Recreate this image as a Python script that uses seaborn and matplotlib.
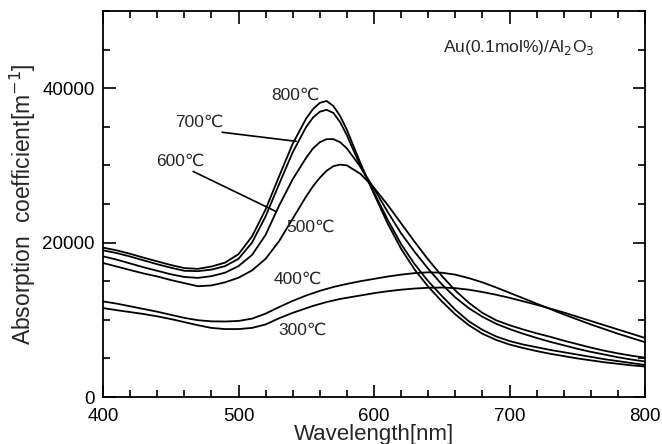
import numpy as np
import pandas as pd
import matplotlib
matplotlib.use("Agg")
import matplotlib.pyplot as plt
import seaborn as sns
from matplotlib.ticker import MultipleLocator, FixedLocator

wavelength = [400, 410, 420, 430, 440, 450, 460, 470, 480, 490, 500, 510, 520, 530, 540,
              550, 555, 560, 565, 570, 575, 580, 590, 600, 610, 620, 630, 640, 650, 660,
              670, 680, 690, 700, 710, 720, 730, 740, 750, 760, 770, 780, 790, 800]

t800 = [19350, 19000, 18550, 18050, 17570, 17100, 16700, 16600, 16900, 17400, 18500, 20800, 24300, 28600, 32800,
        36100, 37300, 38100, 38350, 37700, 36400, 34600, 30300, 26300, 22500, 19200, 16500, 14300, 12400, 10700,
        9300, 8200, 7400, 6800, 6350, 5950, 5600, 5300, 5000, 4750, 4500, 4300, 4100, 3950]
t700 = [19000, 18650, 18200, 17700, 17200, 16750, 16350, 16300, 16500, 16950, 17900, 20000, 23400, 27600, 31700,
        35000, 36200, 36950, 37200, 36800, 35600, 33900, 29900, 26500, 23000, 19800, 17200, 15000, 13100, 11300,
        9800, 8700, 7850, 7250, 6800, 6450, 6100, 5800, 5500, 5200, 4900, 4650, 4400, 4150]
t600 = [18220, 17800, 17300, 16800, 16350, 15900, 15550, 15430, 15650, 16100, 16950, 18400, 21000, 24800, 28200,
        31000, 32200, 33000, 33400, 33400, 33000, 32200, 29800, 27000, 24000, 21200, 18800, 16600, 14600, 12900,
        11500, 10400, 9500, 8800, 8200, 7650, 7150, 6700, 6250, 5850, 5500, 5150, 4850, 4600]
t500 = [17360, 16900, 16450, 16000, 15620, 15150, 14750, 14350, 14450, 14850, 15450, 16400, 17900, 20200, 23100,
        26000, 27300, 28400, 29300, 29900, 30100, 30000, 28900, 27100, 24900, 22500, 20100, 17800, 15700, 13800,
        12200, 10900, 9950, 9300, 8750, 8250, 7800, 7300, 6850, 6400, 6000, 5650, 5350, 5100]
t400 = [12380, 12100, 11750, 11400, 11050, 10650, 10250, 9950, 9800, 9780, 9850, 10150, 10800, 11650, 12450,
        13150, 13450, 13750, 14000, 14250, 14450, 14650, 15000, 15300, 15600, 15850, 16050, 16150, 16100, 15850,
        15400, 14850, 14200, 13500, 12800, 12100, 11400, 10700, 10050, 9400, 8800, 8200, 7650, 7100]
t300 = [11520, 11250, 11000, 10750, 10450, 10100, 9700, 9300, 8950, 8800, 8800, 8950, 9400, 10200, 10900,
        11500, 11800, 12050, 12300, 12500, 12700, 12850, 13150, 13450, 13700, 13900, 14050, 14150, 14180, 14100,
        13900, 13600, 13250, 12850, 12400, 11950, 11450, 10950, 10400, 9850, 9300, 8750, 8200, 7650]

series = {"800": t800, "700": t700, "600": t600, "500": t500, "400": t400, "300": t300}

rows = []
for name, vals in series.items():
    for w, v in zip(wavelength, vals):
        rows.append({"wavelength": w, "value": v, "temp": name})
df = pd.DataFrame(rows)

sns.set_style("ticks")
plt.rcParams["font.family"] = ["Liberation Sans", "DejaVu Sans"]

fig = plt.figure(figsize=(6.62, 4.44), dpi=100)
ax = fig.add_axes([103 / 662, 1 - 397 / 444, (645 - 103) / 662, (397 - 11) / 444])

sns.lineplot(data=df, x="wavelength", y="value", hue="temp",
             palette=["black"] * 6, linewidth=1.3, legend=False, ax=ax, estimator=None, sort=True)

ax.set_xlim(400, 800)
ax.set_ylim(0, 50000)
ax.xaxis.set_major_locator(MultipleLocator(100))
ax.xaxis.set_minor_locator(MultipleLocator(20))
ax.yaxis.set_major_locator(FixedLocator([0, 20000, 40000]))
ax.yaxis.set_minor_locator(MultipleLocator(5000))
ax.tick_params(which="both", direction="in", top=True, right=True, width=1.2, colors="black", labelsize=13.5)
ax.tick_params(which="major", length=9)
ax.tick_params(which="minor", length=5)
ax.tick_params(axis="x", which="major", pad=8)
ax.tick_params(axis="y", which="major", pad=6)
for s in ax.spines.values():
    s.set_linewidth(1.3)
    s.set_color("black")

ax.set_xlabel("Wavelength[nm]", fontsize=16, labelpad=-1)
ax.set_ylabel("Absorption  coefficient[m$^{-1}$]", fontsize=16.5, labelpad=3)

fs = 12.5
txt = dict(fontsize=fs, ha="center", va="center", family=["Liberation Sans", "DejaVu Sans"])
ax.text(542, 39100, "800℃", **txt)
ax.text(471, 35600, "700℃", **txt)
ax.text(457, 30500, "600℃", **txt)
ax.text(553, 21950, "500℃", **txt)
ax.text(544, 15200, "400℃", **txt)
ax.text(547, 8700, "300℃", **txt)
ax.plot([488, 542.5], [34290, 33120], color="black", lw=1.2)
ax.plot([466.5, 527.7], [29220, 24030], color="black", lw=1.2)
ax.text(763, 45300, "Au(0.1mol%)/Al$_2$O$_3$", fontsize=12.5, ha="right", va="center")

fig.savefig("out.png", dpi=100)
